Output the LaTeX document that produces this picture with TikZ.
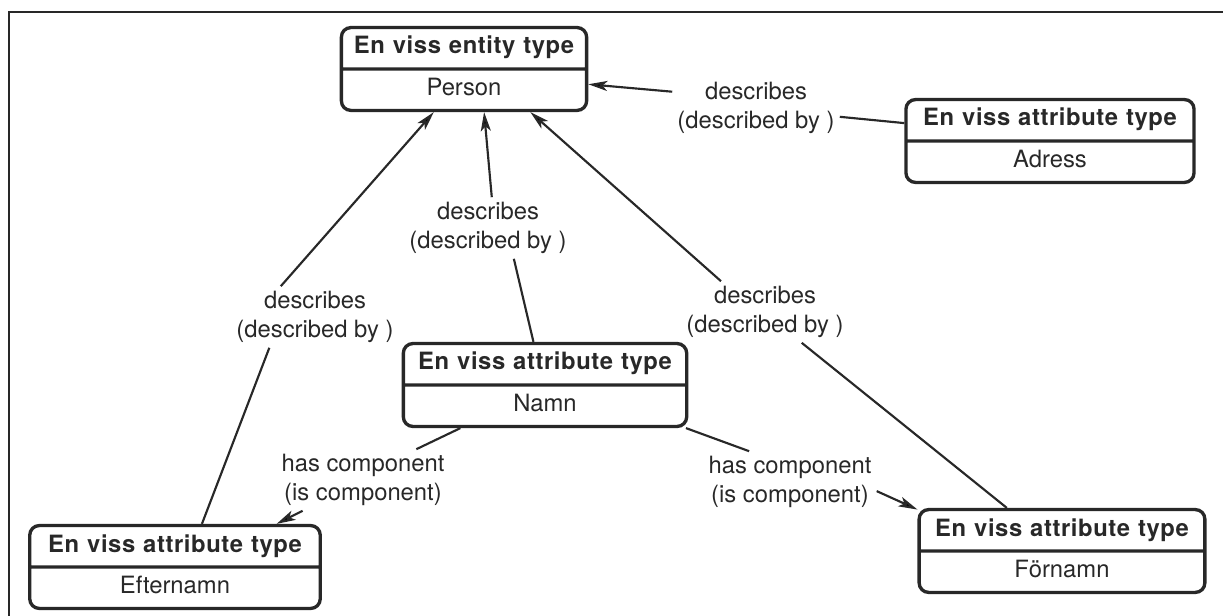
\documentclass[tikz,border=0pt]{standalone}
\usepackage{fontspec}
\setmainfont{TeX Gyre Heros}
\newfontfamily\headfont[WordSpace=1.6, LetterSpace=2.5]{TeX Gyre Heros}
\usetikzlibrary{shapes.multipart,arrows.meta}
\definecolor{ink}{RGB}{40,40,40}
\tikzset{
  typebox/.style={draw=ink, line width=1.4pt, rounded corners=4pt, rectangle split, rectangle split parts=2,
    text width=#1, align=center, inner xsep=2pt, inner ysep=2pt, text=ink},
  rel/.style={align=center, inner sep=2pt, text=ink},
  link/.style={draw=ink, line width=0.9pt},
  arrow/.style={link, -{Stealth[length=8pt,width=4.2pt,inset=2pt]}},
}
\newcommand{\hd}[1]{{\headfont\bfseries\strut #1}}
\newcommand{\bd}[1]{\strut #1}

\begin{document}
\begin{tikzpicture}[x=0.42pt, y=-0.42pt]
    \useasboundingbox (0,0) rectangle (1223,616);

    % Frame
    \draw[ink, line width=0.9pt] (9,616) -- (9,12) -- (1223,12);

    % Draw type boxes
    \node (person) [typebox=99pt] at (464,69) {\hd{En viss entity type}\nodepart{two}\bd{Person}};
    \node (adress) [typebox=117pt] at (1050,141) {\hd{En viss attribute type}\nodepart{two}\bd{Adress}};
    \node (namn) [typebox=115pt] at (545,385) {\hd{En viss attribute type}\nodepart{two}\bd{Namn}};
    \node (efter) [typebox=118pt] at (175,567) {\hd{En viss attribute type}\nodepart{two}\bd{Efternamn}};
    \node (fornamn) [typebox=116pt] at (1062,551) {\hd{En viss attribute type}\nodepart{two}\bd{Förnamn}};

    % Draw relation labels
    \node (descA) [rel] at (756,108) {describes\\(described by )};
    \node (descN) [rel] at (488,228) {describes\\(described by )};
    \node (descE) [rel] at (315,317) {describes\\(described by )};
    \node (descF) [rel] at (765,312) {describes\\(described by )};
    \node (compE) [rel] at (363,480) {has component\\(is component)};
    \node (compF) [rel] at (790,482) {has component\\(is component)};

    % Draw connectors
    \draw[link] (adress.173) -- (descA.354);
    \draw[arrow] (descA.169) -- (person.353);
    \draw[link] (namn.105) -- (descN.310);
    \draw[arrow] (descN.83) -- (person.295);
    \draw[link] (efter.58) -- (descE.214);
    \draw[arrow] (descE.138) -- (person.235);
    \draw[link] (fornamn.142) -- (descF.320);
    \draw[arrow] (descF.145) -- (person.327);
    \draw[link] (namn.207) -- (compE.30);
    \draw[arrow] (compE.207) -- (efter.23);
    \draw[link] (namn.343) -- (compF.143);
    \draw[arrow] (compF.354) -- (fornamn.164);
\end{tikzpicture}
\end{document}
